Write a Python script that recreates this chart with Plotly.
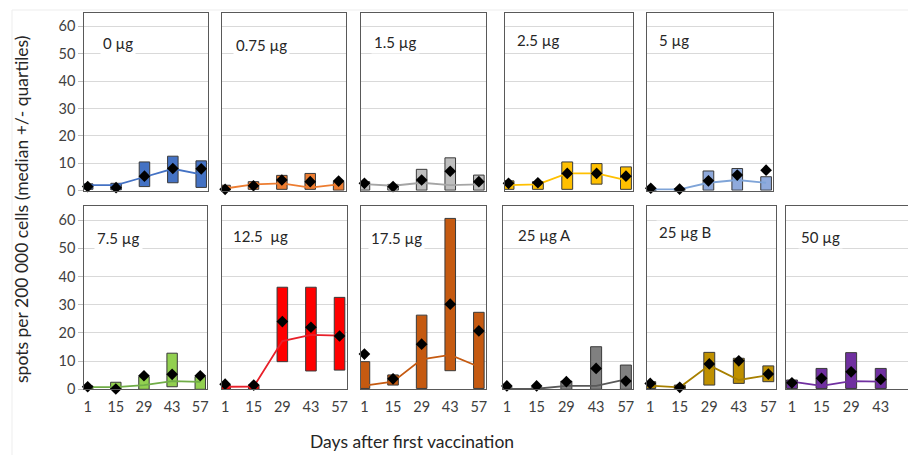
import plotly.graph_objects as go

W, H = 908, 455

days = ["1", "15", "29", "43", "57"]
doses = ["0 µg", "0.75 µg", "1.5 µg", "2.5 µg", "5 µg",
         "7.5 µg", "12.5  µg", "17.5 µg", "25 µg A", "25 µg B", "50 µg"]

# lower quartile per dose group
q1_0 = [0.5, 0.3, 1.5, 2.9, 1.2]
q1_075 = [0.2, 0.5, 0.5, 0.5, 0.2]
q1_15 = [0.2, 0.2, 0.2, 0.2, 0.2]
q1_25 = [0.5, 0.5, 0.5, 2.4, 0.5]
q1_5 = [0.0, 0.0, 0.2, 0.2, 0.2]
q1_75 = [0.0, 0.0, 0.0, 0.9, 0.0]
q1_125 = [0.0, 0.0, 9.8, 6.5, 6.8]
q1_175 = [0.3, 1.5, 0.3, 6.6, 0.3]
q1_25a = [0.0, 0.0, 0.0, 0.0, 0.0]
q1_25b = [0.3, 0.0, 1.5, 2.1, 2.7]
q1_50 = [0.3, 0.3, 0.3, 0.3]

# upper quartile per dose group
q3_0 = [2.5, 2.7, 10.5, 12.6, 10.9]
q3_075 = [2.0, 3.3, 5.6, 6.3, 3.3]
q3_15 = [3.3, 2.3, 7.8, 12.0, 5.7]
q3_25 = [3.6, 3.3, 10.5, 9.9, 8.7]
q3_5 = [0.8, 0.8, 7.2, 8.1, 5.1]
q3_75 = [1.2, 2.5, 4.5, 12.8, 4.5]
q3_125 = [1.5, 1.5, 36.2, 36.2, 32.6]
q3_175 = [9.8, 5.1, 26.3, 60.6, 27.3]
q3_25a = [0.5, 0.5, 2.9, 15.1, 8.6]
q3_25b = [2.7, 1.5, 13.1, 11.0, 8.3]
q3_50 = [3.3, 7.4, 13.0, 7.4]

# medians (diamonds)
med_0 = [1.5, 1.1, 5.3, 8.1, 8.0]
med_075 = [0.5, 1.8, 3.9, 3.3, 3.5]
med_15 = [2.7, 1.5, 3.9, 7.1, 3.3]
med_25 = [2.7, 2.9, 6.3, 6.3, 5.3]
med_5 = [0.9, 0.6, 3.6, 5.7, 7.5]
med_75 = [0.9, 0.1, 4.8, 5.3, 4.8]
med_125 = [1.8, 1.5, 24.0, 22.0, 18.9]
med_175 = [12.5, 3.7, 16.0, 30.2, 20.7]
med_25a = [1.2, 1.2, 2.7, 7.4, 2.9]
med_25b = [2.1, 0.7, 9.0, 10.1, 5.4]
med_50 = [2.3, 3.9, 6.2, 3.5]

# connecting line values
line_0 = [2.0, 2.0, 5.0, 8.0, 6.0]
line_075 = [0.8, 2.3, 2.7, 1.1, 2.3]
line_15 = [2.4, 1.8, 2.9, 2.0, 2.3]
line_25 = [2.0, 2.3, 6.3, 6.3, 3.9]
line_5 = [0.5, 0.5, 2.9, 3.9, 2.9]
line_75 = [0.8, 0.8, 1.5, 2.9, 2.6]
line_125 = [0.9, 1.0, 17.1, 19.3, 19.0]
line_175 = [1.3, 2.7, 10.6, 12.2, 8.0]
line_25a = [0.1, 0.2, 1.2, 1.2, 3.5]
line_25b = [1.3, 0.7, 8.5, 3.3, 5.0]
line_50 = [2.7, 1.2, 2.9, 2.7]

q1_all = [q1_0, q1_075, q1_15, q1_25, q1_5, q1_75, q1_125, q1_175, q1_25a, q1_25b, q1_50]
q3_all = [q3_0, q3_075, q3_15, q3_25, q3_5, q3_75, q3_125, q3_175, q3_25a, q3_25b, q3_50]
med_all = [med_0, med_075, med_15, med_25, med_5, med_75, med_125, med_175, med_25a, med_25b, med_50]
line_all = [line_0, line_075, line_15, line_25, line_5, line_75, line_125, line_175, line_25a, line_25b, line_50]

bar_colors = ["#4472C4", "#ED7D31", "#BFBFBF", "#FFC000", "#8FAADC", "#92D050",
              "#FF0000", "#C55A11", "#808080", "#BF9000", "#7030A0"]
line_colors = ["#4472C4", "#ED7D31", "#A5A5A5", "#FFC000", "#7FA4D8", "#70AD47",
               "#E8202A", "#C55A11", "#595959", "#A88000", "#7030A0"]

# panel geometry (pixels)
xdom_px = [(84.3, 208.3), (221.7, 345.7), (361, 486), (505, 633.3), (647.3, 773.3),
           (84.3, 207.3), (221.7, 346.7), (361, 486), (503.3, 633.3), (646.7, 775.7), (785.7, 908)]
row_px = [(12.7, 190.7), (206, 389.3)]
label_off = [(16, 30), (11, 32), (10, 29), (9, 27), (9, 27),
             (10, 32), (8, 30), (7, 32), (12, 29), (9, 26), (12, 31)]

fig = go.Figure()
FONT = "Lato, Liberation Sans, sans-serif"

for i in range(11):
    n = i + 1
    xa = "x" if n == 1 else f"x{n}"
    ya = "y" if n == 1 else f"y{n}"
    cats = days[:len(med_all[i])]
    q1 = q1_all[i]
    q3 = q3_all[i]
    fig.add_trace(go.Bar(
        x=cats, y=[b - a for a, b in zip(q1, q3)], base=q1,
        width=0.37, marker=dict(color=bar_colors[i], line=dict(color="#3a3a3a", width=1)),
        xaxis=xa, yaxis=ya, showlegend=False, hoverinfo="skip"))
    fig.add_trace(go.Scatter(
        x=cats, y=line_all[i], mode="lines",
        line=dict(color=line_colors[i], width=1.8),
        xaxis=xa, yaxis=ya, showlegend=False, cliponaxis=False))
    fig.add_trace(go.Scatter(
        x=cats, y=med_all[i], mode="markers",
        marker=dict(symbol="diamond", size=9, color="black"),
        xaxis=xa, yaxis=ya, showlegend=False, cliponaxis=False))

    row = 0 if i < 5 else 1
    x0, x1 = xdom_px[i]
    y0, y1 = row_px[row]
    first_col = i in (0, 5)
    last = (i == 10)
    xrange = [-0.21, 3.92] if last else [-0.12, 4.25]
    fig.layout[f"xaxis{'' if n == 1 else n}"] = dict(
        domain=[x0 / W, min(x1 / W, 1.0)], anchor=ya, type="category", automargin=False,
        range=xrange, showline=True, linecolor="#595959", linewidth=1, mirror=True,
        showgrid=False, ticks="", showticklabels=(row == 1),
        tickfont=dict(family=FONT, size=14.5, color="#404040"), ticklabelstandoff=4,
        fixedrange=True)
    fig.layout[f"yaxis{'' if n == 1 else n}"] = dict(
        domain=[1 - y1 / H, 1 - y0 / H], anchor=xa, range=[0, 65], automargin=False,
        tickvals=[0, 10, 20, 30, 40, 50, 60], showgrid=True, gridcolor="#D9D9D9",
        gridwidth=1, zeroline=False, showline=True, linecolor="#595959", linewidth=1,
        mirror=(not last), showticklabels=first_col,
        ticks="outside" if first_col else "", ticklen=5, tickcolor="#BFBFBF",
        tickfont=dict(family=FONT, size=14.5, color="#404040"), fixedrange=True)

    ox, oy = label_off[i]
    fig.add_annotation(
        text=doses[i], xref=f"{xa} domain", yref=f"{ya} domain",
        x=ox / (x1 - x0), y=1 - oy / (y1 - y0), xanchor="left", yanchor="middle",
        showarrow=False, bgcolor="white", borderpad=2,
        font=dict(family=FONT, size=15, color="#262626"))

fig.add_annotation(
    text="spots per 200 000 cells (median +/- quartiles)", xref="paper", yref="paper",
    x=21 / W, y=1 - 210 / H, textangle=-90, showarrow=False,
    xanchor="center", yanchor="middle", font=dict(family=FONT, size=17.5, color="#262626"))
fig.add_annotation(
    text="Days after first vaccination", xref="paper", yref="paper",
    x=412 / W, y=1 - 441 / H, showarrow=False,
    xanchor="center", yanchor="middle", font=dict(family=FONT, size=17.5, color="#262626"))

fig.add_shape(type="rect", xref="paper", yref="paper", x0=12 / W, x1=1.02, y0=-0.02, y1=1 - 10 / H,
              line=dict(color="#EDEDED", width=1), layer="below")

fig.update_layout(width=W, height=H, margin=dict(l=0, r=0, t=0, b=0, autoexpand=False),
                  plot_bgcolor="white", paper_bgcolor="white", barmode="overlay",
                  font=dict(family=FONT))
fig.write_html("out.html", config={"displayModeBar": False},
               post_script="document.body.style.margin='0';document.body.style.overflow='hidden';")
